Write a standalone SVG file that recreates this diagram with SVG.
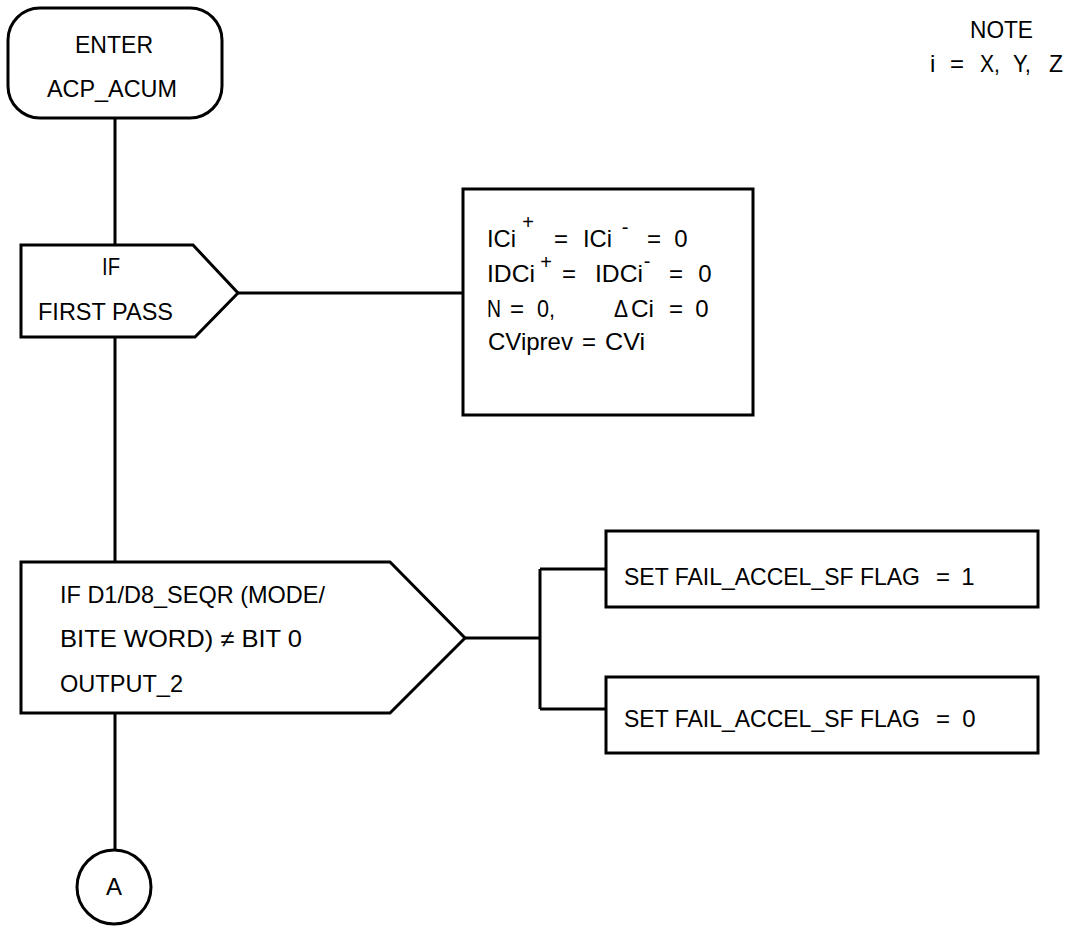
<svg xmlns="http://www.w3.org/2000/svg" width="1071" height="926" viewBox="0 0 1071 926">
<style>
.s{fill:#fff;stroke:#000;stroke-width:3}
.c{fill:none;stroke:#000;stroke-width:3}
text{font-family:"Liberation Sans",Arial,sans-serif;font-size:24px;fill:#000}
.m{text-anchor:middle}
.sup{font-size:20px;text-anchor:middle}
</style>
<rect width="1071" height="926" fill="#fff"/>
<g id="connectors">
<path class="c" d="M115 118V245M115 337V562M238 293H463M115 713V850M465 638H540M540 569V709M540 569H606M540 709H606"/>
</g>
<g id="enter">
<rect class="s" x="8" y="8" width="214" height="110" rx="32"/>
<text x="75" y="53" textLength="78" lengthAdjust="spacingAndGlyphs">ENTER</text>
<text x="47" y="97" textLength="130" lengthAdjust="spacingAndGlyphs">ACP_ACUM</text>
</g>
<g id="first-pass">
<path class="s" d="M21 245H193L238 293L195 337H21Z"/>
<text x="102" y="275" textLength="18" lengthAdjust="spacingAndGlyphs">IF</text>
<text x="38" y="320" textLength="135" lengthAdjust="spacingAndGlyphs">FIRST PASS</text>
</g>
<g id="init">
<rect class="s" x="463" y="189" width="290" height="226"/>
<text x="487" y="247" textLength="29" lengthAdjust="spacingAndGlyphs">ICi</text>
<text class="sup" x="528" y="229">+</text>
<text class="m" x="561" y="247">=</text>
<text x="583" y="247" textLength="29" lengthAdjust="spacingAndGlyphs">ICi</text>
<text class="sup" x="625" y="234">-</text>
<text class="m" x="654" y="247">=</text>
<text class="m" x="681" y="247">0</text>
<text x="487" y="282" textLength="48" lengthAdjust="spacingAndGlyphs">IDCi</text>
<text class="sup" x="546" y="269">+</text>
<text class="m" x="569" y="282">=</text>
<text x="595" y="282" textLength="48" lengthAdjust="spacingAndGlyphs">IDCi</text>
<text class="sup" x="647" y="268">-</text>
<text class="m" x="676" y="282">=</text>
<text class="m" x="705" y="282">0</text>
<text x="487" y="317" textLength="14" lengthAdjust="spacingAndGlyphs">N</text>
<text class="m" x="517" y="317">=</text>
<text x="537" y="317" textLength="18" lengthAdjust="spacingAndGlyphs">0,</text>
<text x="614" y="317" textLength="14" lengthAdjust="spacingAndGlyphs">Δ</text>
<text x="631" y="317" textLength="23" lengthAdjust="spacingAndGlyphs">Ci</text>
<text class="m" x="676" y="317">=</text>
<text class="m" x="702" y="317">0</text>
<text x="488" y="350" textLength="85" lengthAdjust="spacingAndGlyphs">CViprev</text>
<text class="m" x="589" y="350">=</text>
<text x="605" y="350" textLength="40" lengthAdjust="spacingAndGlyphs">CVi</text>
</g>
<g id="note">
<text x="970" y="38" textLength="63" lengthAdjust="spacingAndGlyphs">NOTE</text>
<text x="930" y="72">i</text>
<text class="m" x="957" y="72">=</text>
<text x="980" y="72" textLength="20" lengthAdjust="spacingAndGlyphs">X,</text>
<text x="1013" y="72" textLength="18" lengthAdjust="spacingAndGlyphs">Y,</text>
<text x="1049" y="72" textLength="14" lengthAdjust="spacingAndGlyphs">Z</text>
</g>
<g id="seqr">
<path class="s" d="M21 562H390L465 638L390 713H21Z"/>
<text x="60" y="603" textLength="265" lengthAdjust="spacingAndGlyphs">IF D1/D8_SEQR (MODE/</text>
<text x="60" y="647" textLength="242" lengthAdjust="spacingAndGlyphs">BITE WORD) ≠ BIT 0</text>
<text x="60" y="692" textLength="123" lengthAdjust="spacingAndGlyphs">OUTPUT_2</text>
</g>
<g id="flag1">
<rect class="s" x="606" y="531" width="432" height="76"/>
<text x="624" y="585" textLength="296" lengthAdjust="spacingAndGlyphs">SET FAIL_ACCEL_SF FLAG</text>
<text class="m" x="943" y="585">=</text>
<text class="m" x="968" y="585">1</text>
</g>
<g id="flag0">
<rect class="s" x="606" y="677" width="432" height="76"/>
<text x="624" y="727" textLength="296" lengthAdjust="spacingAndGlyphs">SET FAIL_ACCEL_SF FLAG</text>
<text class="m" x="943" y="727">=</text>
<text class="m" x="969" y="727">0</text>
</g>
<g id="conn-a">
<circle class="s" cx="114" cy="887" r="37"/>
<text class="m" x="114" y="895">A</text>
</g>
</svg>
